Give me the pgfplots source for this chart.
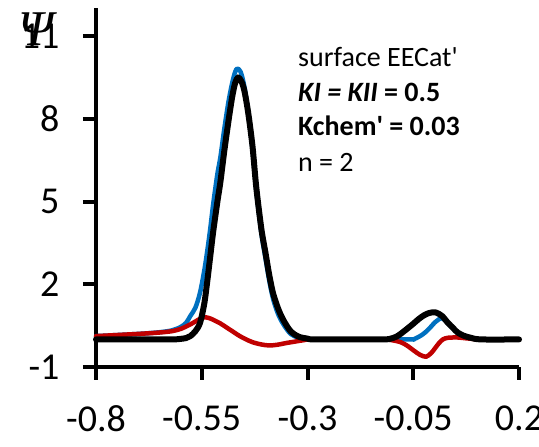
\documentclass[border=0pt]{standalone}
\usepackage{fontspec}
\setmainfont{Carlito}[Ligatures=TeXOff]
\newfontfamily\psifont{Liberation Serif}
\usepackage{pgfplots}
\pgfplotsset{compat=1.18}
\definecolor{xblue}{HTML}{0070C0}
\definecolor{xred}{HTML}{C00000}

\pgfplotstableread{
x y
-0.80 0
-0.70 0
-0.62 0
-0.60 0.02
-0.587 0.05
-0.577 0.12
-0.565 0.3
-0.554 0.6
-0.544 1.3
-0.537 2.1
-0.530 3.0
-0.523 3.9
-0.513 5.0
-0.506 5.7
-0.497 6.8
-0.487 7.9
-0.478 8.8
-0.471 9.3
-0.464 9.5
-0.456 9.35
-0.449 9.0
-0.440 8.2
-0.430 7.0
-0.421 5.5
-0.409 4.0
-0.400 3.2
-0.390 2.3
-0.381 1.65
-0.369 1.1
-0.357 0.7
-0.340 0.3
-0.321 0.1
-0.300 0.03
-0.286 0
-0.20 0
-0.12 0
-0.103 0.03
-0.090 0.1
-0.080 0.2
-0.065 0.38
-0.049 0.58
-0.037 0.74
-0.025 0.87
-0.012 0.96
0.003 0.98
0.018 0.85
0.032 0.6
0.045 0.4
0.055 0.25
0.070 0.13
0.086 0.06
0.110 0
0.20 0
}\blackdata

\pgfplotstableread{
x y
-0.80 0.12
-0.70 0.2
-0.65 0.25
-0.62 0.3
-0.60 0.38
-0.58 0.52
-0.565 0.65
-0.55 0.78
-0.54 0.8
-0.53 0.76
-0.52 0.69
-0.506 0.58
-0.49 0.42
-0.475 0.27
-0.46 0.12
-0.445 0.0
-0.43 -0.1
-0.41 -0.18
-0.39 -0.22
-0.37 -0.19
-0.35 -0.13
-0.33 -0.08
-0.31 -0.03
-0.29 0
-0.20 0
-0.12 0
-0.10 -0.03
-0.08 -0.1
-0.065 -0.22
-0.049 -0.4
-0.035 -0.55
-0.02 -0.63
-0.008 -0.5
0.000 -0.35
0.01 -0.15
0.02 0.0
0.032 0.06
0.055 0.07
0.075 0.04
0.09 0.02
0.11 0
0.20 0
}\reddata

\pgfplotstableread{
x y
-0.80 0.12
-0.70 0.2
-0.65 0.26
-0.62 0.33
-0.60 0.45
-0.587 0.6
-0.577 0.85
-0.565 1.15
-0.554 1.7
-0.544 2.5
-0.537 3.2
-0.530 4.0
-0.523 4.9
-0.513 6.0
-0.506 6.6
-0.497 7.6
-0.487 8.6
-0.478 9.3
-0.471 9.7
-0.466 9.82
-0.458 9.7
-0.449 9.15
-0.440 8.2
-0.430 6.9
-0.421 5.4
-0.409 3.85
-0.400 3.0
-0.390 2.1
-0.381 1.45
-0.369 0.9
-0.357 0.55
-0.340 0.2
-0.321 0.06
-0.300 0.0
-0.20 0
-0.06 0
-0.05 0.0
-0.034 0.12
-0.022 0.25
-0.010 0.43
0.000 0.6
0.008 0.7
0.016 0.77
0.025 0.7
0.032 0.58
0.045 0.39
0.055 0.25
0.070 0.13
0.086 0.06
0.110 0
0.20 0
}\bluedata

\begin{document}
\begin{tikzpicture}
\begin{axis}[
  scale only axis, width=423pt, height=358.5pt,
  xmin=-0.8, xmax=0.2, ymin=-1, ymax=12,
  axis x line=bottom, axis y line=left,
  axis line style={-, line width=4pt},
  xtick={-0.8,-0.55,-0.3,-0.05,0.2},
  xticklabels={-0.8,-0.55,-0.3,-0.05,0.2},
  ytick={-1,2,5,8,11},
  yticklabels={-1,2,5,8,11},
  tick align=outside,
  major tick length=13pt,
  every tick/.style={black, line width=4pt},
  tick label style={font=\fontsize{38}{40}\selectfont},
  yticklabel style={xshift=-20pt},
  xticklabel style={yshift=-22pt},
  ylabel={\psifont\itshape Ψ},
  every axis y label/.style={at={(axis description cs:0,1)}, anchor=center, xshift=-60pt, yshift=-21pt, font=\fontsize{50}{52}\selectfont},
  clip=false,
]
\addplot[xblue, line width=4.5pt, smooth, line cap=round, line join=round] table[x=x,y=y] {\bluedata};
\addplot[xred, line width=4.5pt, smooth, line cap=round, line join=round] table[x=x,y=y] {\reddata};
\addplot[black, line width=6pt, smooth, line cap=round, line join=round] table[x=x,y=y] {\blackdata};
\end{axis}
\begin{scope}[every node/.style={anchor=base west, inner sep=0pt, font=\fontsize{28}{34}\selectfont}]
\node at (202pt,300.3pt) {surface EECat'};
\node at (202pt,265.3pt) {\bfseries\itshape KI = KII\upshape{} = 0.5};
\node at (202pt,231pt) {\bfseries Kchem' = 0.03};
\node at (202pt,195.3pt) {n = 2};
\end{scope}
\pgfresetboundingbox
\path (-96pt,-80pt) rectangle (443pt,367pt);
\end{tikzpicture}
\end{document}
